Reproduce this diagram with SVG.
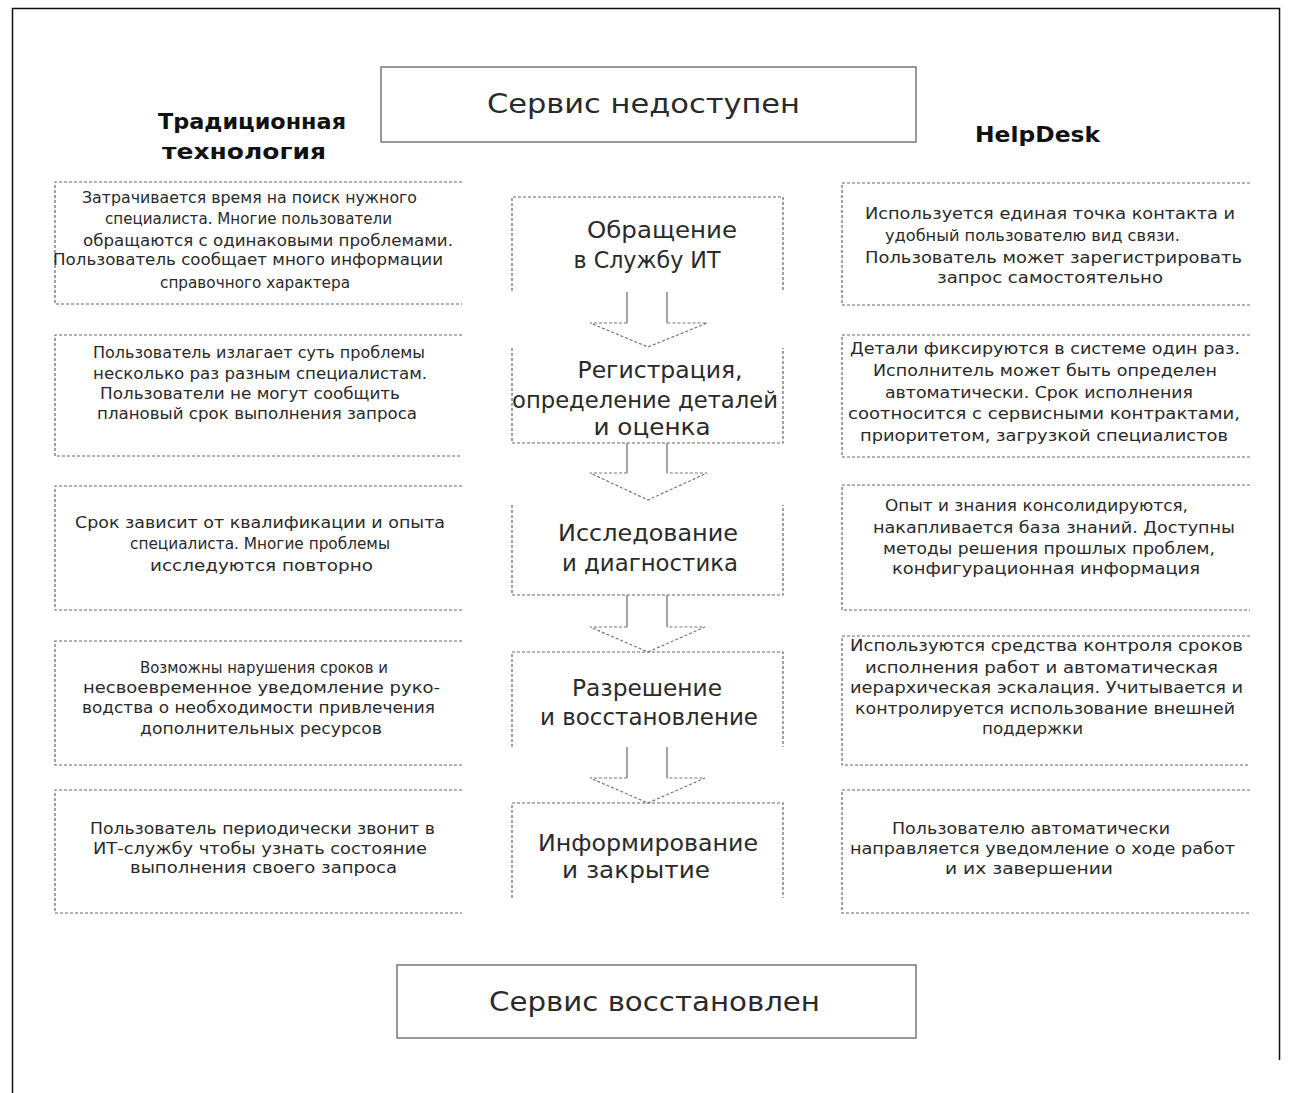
<svg xmlns="http://www.w3.org/2000/svg" width="1292" height="1093" viewBox="0 0 1292 1093">
<style>
.frame{fill:none;stroke:#111;stroke-width:1.5}
.solidbox{fill:#fff;stroke:#777;stroke-width:1.5}
.dbox{fill:none;stroke:#666;stroke-width:1.2;stroke-dasharray:3 2}
.shaft{fill:none;stroke:#666;stroke-width:1.2}
.head{fill:none;stroke:#777;stroke-width:1.2;stroke-dasharray:3 2}
text{font-family:"DejaVu Sans","Liberation Sans",sans-serif;fill:#2a2a2a;text-anchor:middle}
.side{font-size:15px}
.mid{font-size:23px}
.big{font-size:26px}
.hdr{font-size:21px;font-weight:bold;fill:#111}
</style>
<path class="frame" d="M12.5,1093V8.5H1279.5V1060"/>

<g id="top">
<rect class="solidbox" x="381" y="67" width="535" height="75"/>
<text class="big" x="643.5" y="113" textLength="313" lengthAdjust="spacingAndGlyphs">Сервис недоступен</text>
</g>
<g id="bottom">
<rect class="solidbox" x="397" y="965" width="519" height="73"/>
<text class="big" x="654.5" y="1011" textLength="331" lengthAdjust="spacingAndGlyphs">Сервис восстановлен</text>
</g>
<g id="hdr-left">
<text class="hdr" x="252" y="129" textLength="188" lengthAdjust="spacingAndGlyphs">Традиционная</text>
<text class="hdr" x="244" y="159" textLength="164" lengthAdjust="spacingAndGlyphs">технология</text>
</g>
<g id="hdr-right">
<text class="hdr" x="1037.5" y="142" textLength="125" lengthAdjust="spacingAndGlyphs">HelpDesk</text>
</g>

<g id="connectors">
<path class="shaft" d="M627,292V323M667,292V323"/>
<path class="head" d="M627,323H590L648,347L707,323H667"/>
<path class="shaft" d="M627,443V473M667,443V473"/>
<path class="head" d="M627,473H590L648,500L707,473H667"/>
<path class="shaft" d="M627,595V627M667,595V627"/>
<path class="head" d="M627,627H590L648,652L705,627H667"/>
<path class="shaft" d="M627,747V778M667,747V778"/>
<path class="head" d="M627,778H590L648,803L705,778H667"/>
</g>

<g id="c1">
<path class="dbox" d="M512,291V197H783V291"/>
<text class="mid" x="662" y="238" textLength="150" lengthAdjust="spacingAndGlyphs">Обращение</text>
<text class="mid" x="647" y="268" textLength="147" lengthAdjust="spacingAndGlyphs">в Службу ИТ</text>
</g>
<g id="c2">
<path class="dbox" d="M512,348V443H783V348"/>
<text class="mid" x="660" y="378" textLength="165" lengthAdjust="spacingAndGlyphs">Регистрация,</text>
<text class="mid" x="645" y="408" textLength="266" lengthAdjust="spacingAndGlyphs">определение деталей</text>
<text class="mid" x="652" y="435" textLength="117" lengthAdjust="spacingAndGlyphs">и оценка</text>
</g>
<g id="c3">
<path class="dbox" d="M512,505V595H783V505"/>
<text class="mid" x="648" y="541" textLength="180" lengthAdjust="spacingAndGlyphs">Исследование</text>
<text class="mid" x="650" y="571" textLength="176" lengthAdjust="spacingAndGlyphs">и диагностика</text>
</g>
<g id="c4">
<path class="dbox" d="M512,747V652H783V747"/>
<text class="mid" x="647" y="696" textLength="150" lengthAdjust="spacingAndGlyphs">Разрешение</text>
<text class="mid" x="649" y="725" textLength="218" lengthAdjust="spacingAndGlyphs">и восстановление</text>
</g>
<g id="c5">
<path class="dbox" d="M512,898V803H783V898"/>
<text class="mid" x="648" y="851" textLength="220" lengthAdjust="spacingAndGlyphs">Информирование</text>
<text class="mid" x="636" y="878" textLength="148" lengthAdjust="spacingAndGlyphs">и закрытие</text>
</g>

<g id="l1">
<path class="dbox" d="M462,182H55V304H462"/>
<text class="side" x="249.5" y="203" textLength="335" lengthAdjust="spacingAndGlyphs">Затрачивается время на поиск нужного</text>
<text class="side" x="248.5" y="224" textLength="287" lengthAdjust="spacingAndGlyphs">специалиста. Многие пользователи</text>
<text class="side" x="268" y="246" textLength="370" lengthAdjust="spacingAndGlyphs">обращаются с одинаковыми проблемами.</text>
<text class="side" x="248" y="265" textLength="390" lengthAdjust="spacingAndGlyphs">Пользователь сообщает много информации</text>
<text class="side" x="255" y="288" textLength="190" lengthAdjust="spacingAndGlyphs">справочного характера</text>
</g>
<g id="l2">
<path class="dbox" d="M462,335H55V456H462"/>
<text class="side" x="259" y="358" textLength="332" lengthAdjust="spacingAndGlyphs">Пользователь излагает суть проблемы</text>
<text class="side" x="260" y="379" textLength="334" lengthAdjust="spacingAndGlyphs">несколько раз разным специалистам.</text>
<text class="side" x="250" y="399" textLength="300" lengthAdjust="spacingAndGlyphs">Пользователи не могут сообщить</text>
<text class="side" x="257" y="419" textLength="320" lengthAdjust="spacingAndGlyphs">плановый срок выполнения запроса</text>
</g>
<g id="l3">
<path class="dbox" d="M462,486H55V610H462"/>
<text class="side" x="260" y="528" textLength="370" lengthAdjust="spacingAndGlyphs">Срок зависит от квалификации и опыта</text>
<text class="side" x="260" y="549" textLength="260" lengthAdjust="spacingAndGlyphs">специалиста. Многие проблемы</text>
<text class="side" x="261.5" y="571" textLength="223" lengthAdjust="spacingAndGlyphs">исследуются повторно</text>
</g>
<g id="l4">
<path class="dbox" d="M462,641H55V765H462"/>
<text class="side" x="264" y="673" textLength="248" lengthAdjust="spacingAndGlyphs">Возможны нарушения сроков и</text>
<text class="side" x="261.5" y="693" textLength="357" lengthAdjust="spacingAndGlyphs">несвоевременное уведомление руко-</text>
<text class="side" x="258.5" y="713" textLength="353" lengthAdjust="spacingAndGlyphs">водства о необходимости привлечения</text>
<text class="side" x="261" y="734" textLength="242" lengthAdjust="spacingAndGlyphs">дополнительных ресурсов</text>
</g>
<g id="l5">
<path class="dbox" d="M462,790H55V913H462"/>
<text class="side" x="262.5" y="834" textLength="345" lengthAdjust="spacingAndGlyphs">Пользователь периодически звонит в</text>
<text class="side" x="260" y="854" textLength="334" lengthAdjust="spacingAndGlyphs">ИТ-службу чтобы узнать состояние</text>
<text class="side" x="263.5" y="873" textLength="267" lengthAdjust="spacingAndGlyphs">выполнения своего запроса</text>
</g>

<g id="r1">
<path class="dbox" d="M1250,183H842V305H1250"/>
<text class="side" x="1050" y="219" textLength="370" lengthAdjust="spacingAndGlyphs">Используется единая точка контакта и</text>
<text class="side" x="1032.5" y="241" textLength="295" lengthAdjust="spacingAndGlyphs">удобный пользователю вид связи.</text>
<text class="side" x="1053.5" y="263" textLength="377" lengthAdjust="spacingAndGlyphs">Пользователь может зарегистрировать</text>
<text class="side" x="1050" y="283" textLength="226" lengthAdjust="spacingAndGlyphs">запрос самостоятельно</text>
</g>
<g id="r2">
<path class="dbox" d="M1250,335H842V457H1250"/>
<text class="side" x="1045" y="354" textLength="390" lengthAdjust="spacingAndGlyphs">Детали фиксируются в системе один раз.</text>
<text class="side" x="1045" y="376" textLength="344" lengthAdjust="spacingAndGlyphs">Исполнитель может быть определен</text>
<text class="side" x="1039" y="398" textLength="308" lengthAdjust="spacingAndGlyphs">автоматически. Срок исполнения</text>
<text class="side" x="1044" y="419" textLength="392" lengthAdjust="spacingAndGlyphs">соотносится с сервисными контрактами,</text>
<text class="side" x="1044" y="441" textLength="368" lengthAdjust="spacingAndGlyphs">приоритетом, загрузкой специалистов</text>
</g>
<g id="r3">
<path class="dbox" d="M1250,485H842V610H1250"/>
<text class="side" x="1036.5" y="511" textLength="303" lengthAdjust="spacingAndGlyphs">Опыт и знания консолидируются,</text>
<text class="side" x="1054" y="533" textLength="362" lengthAdjust="spacingAndGlyphs">накапливается база знаний. Доступны</text>
<text class="side" x="1049" y="554" textLength="332" lengthAdjust="spacingAndGlyphs">методы решения прошлых проблем,</text>
<text class="side" x="1046" y="574" textLength="308" lengthAdjust="spacingAndGlyphs">конфигурационная информация</text>
</g>
<g id="r4">
<path class="dbox" d="M1250,636H842V765H1250"/>
<text class="side" x="1046.5" y="651" textLength="393" lengthAdjust="spacingAndGlyphs">Используются средства контроля сроков</text>
<text class="side" x="1041.5" y="673" textLength="353" lengthAdjust="spacingAndGlyphs">исполнения работ и автоматическая</text>
<text class="side" x="1046.5" y="693" textLength="393" lengthAdjust="spacingAndGlyphs">иерархическая эскалация. Учитывается и</text>
<text class="side" x="1045" y="714" textLength="380" lengthAdjust="spacingAndGlyphs">контролируется использование внешней</text>
<text class="side" x="1032.5" y="734" textLength="101" lengthAdjust="spacingAndGlyphs">поддержки</text>
</g>
<g id="r5">
<path class="dbox" d="M1250,790H842V913H1250"/>
<text class="side" x="1031" y="834" textLength="278" lengthAdjust="spacingAndGlyphs">Пользователю автоматически</text>
<text class="side" x="1042.5" y="854" textLength="385" lengthAdjust="spacingAndGlyphs">направляется уведомление о ходе работ</text>
<text class="side" x="1029" y="874" textLength="168" lengthAdjust="spacingAndGlyphs">и их завершении</text>
</g>
</svg>
